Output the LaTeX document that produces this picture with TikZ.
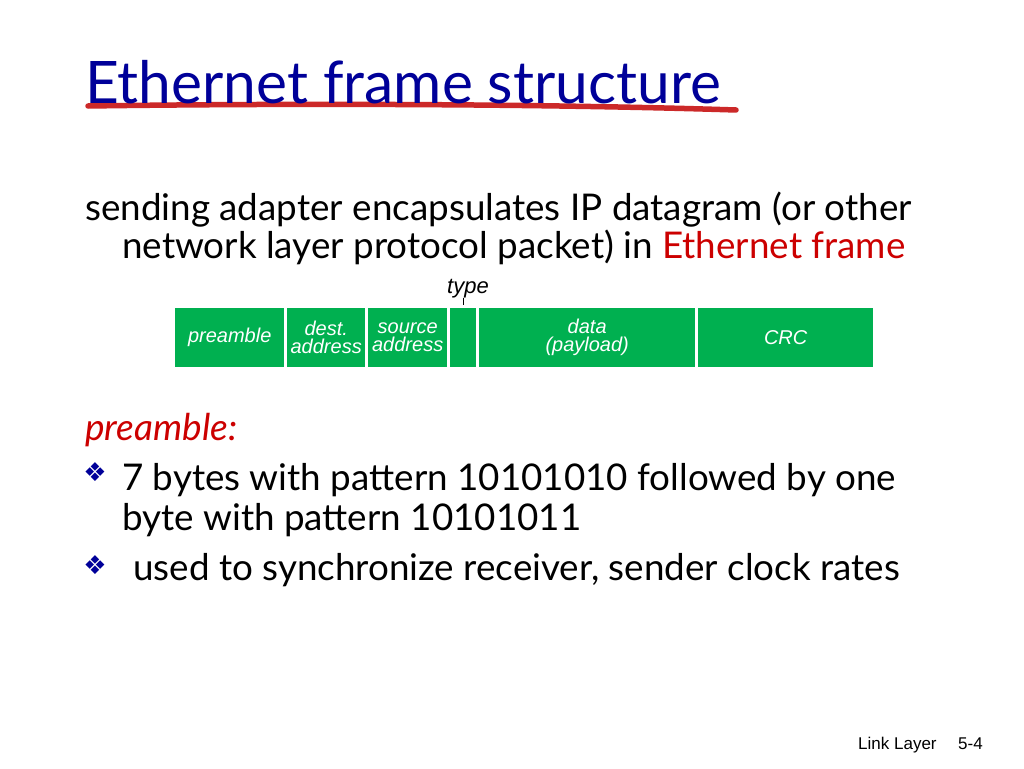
\documentclass[tikz,border=0pt]{standalone}
\usepackage{fontspec}
\setmainfont{Lato}
\newfontfamily\arialfont{Liberation Sans}
\newfontfamily\symfont{DejaVu Sans}
\definecolor{framegreen}{RGB}{0,176,80}
\definecolor{titleblue}{RGB}{0,0,153}
\definecolor{ethred}{RGB}{204,0,0}
\definecolor{brushred}{RGB}{204,41,41}

\begin{document}
\begin{tikzpicture}[x=1pt,y=-1pt,
    field/.style={fill=framegreen,text=white,anchor=north west,minimum height=59pt,
        inner sep=0pt,align=center,font=\arialfont\itshape\fontsize{20}{18}\selectfont},
    body/.style={anchor=base west,inner sep=0pt,font=\fontsize{36.8}{38}\selectfont},
    bulletmark/.style={anchor=center,inner sep=0pt,text=titleblue,font=\symfont\fontsize{26}{26}\selectfont}]
    \useasboundingbox[fill=white] (0,0) rectangle (1024,768);

    % title with brush stroke
    \draw[brushred,line width=5.5pt,line cap=round] (88,106) .. controls (300,103) and (550,104) .. (736,110);
    \node[anchor=base west,inner sep=0pt,text=titleblue,font=\fontsize{58.6}{58}\selectfont] (title) at (85,103) {Ethernet frame structure};

    \node[body] (intro1) at (85,220) {sending adapter encapsulates IP datagram (or other};
    \node[body] (intro2) at (122,258) {network layer protocol packet) in \textcolor{ethred}{Ethernet frame}};

    % frame fields
    \foreach \x/\w/\name/\txt in {175/109/pre/preamble, 287/78/dest/{dest.\\address},
        368/79/src/{source\\address}, 450/26/type/{}, 479/216/data/{data\\(payload)}, 698/175/crc/CRC} {
        \node[field,minimum width=\w pt] (f-\name) at (\x,308) {\txt};
    }
    \node[anchor=base,inner sep=0pt,font=\arialfont\itshape\fontsize{22}{22}\selectfont] (typelbl) at (468,293) {type};
    \draw[thin] (typelbl.south -| f-type.north) -- ([yshift=3pt]f-type.north);

    \node[body,text=ethred,font=\itshape\fontsize{37}{38}\selectfont] (pre) at (85,440) {preamble:};
    \node[bulletmark] (b1) at (95,472) {❖};
    \node[body] (item1a) at (122,490) {7 bytes with pattern 10101010 followed by one};
    \node[body] (item1b) at (122,530) {byte with pattern 10101011};
    \node[bulletmark] (b2) at (95,565) {❖};
    \node[body] (item2) at (133,580) {used to synchronize receiver, sender clock rates};

    % footer
    \node[anchor=base west,inner sep=0pt,font=\arialfont\fontsize{17}{17}\selectfont] (foot) at (858,749) {Link Layer};
    \node[anchor=base west,inner sep=0pt,font=\arialfont\fontsize{17}{17}\selectfont] (page) at (958,749) {5-4};
\end{tikzpicture}
\end{document}
